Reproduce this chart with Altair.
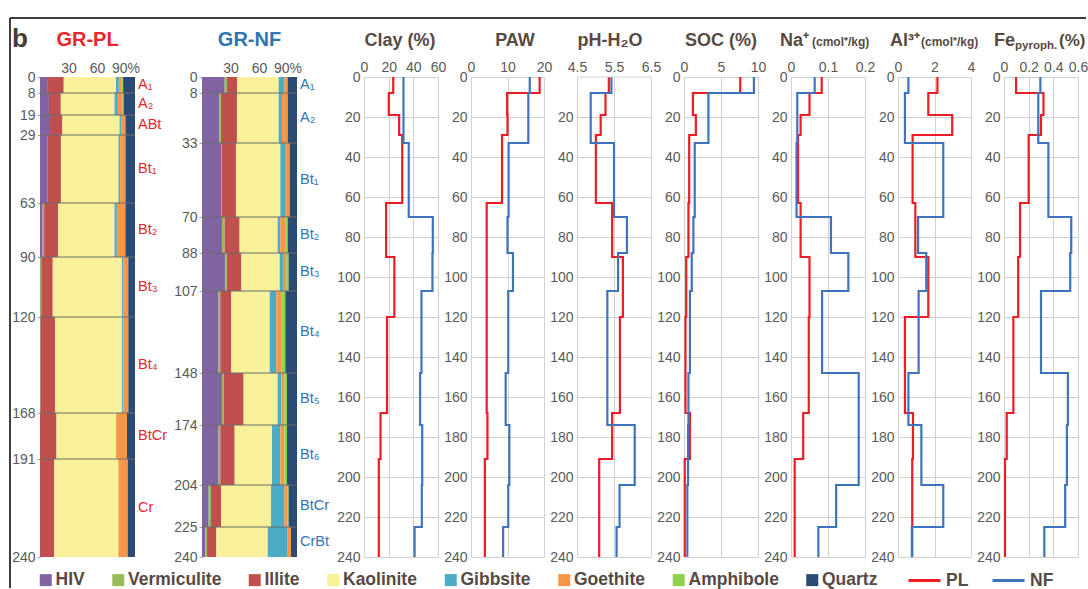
import altair as alt
import pandas as pd

# ---------------- data ----------------
MINERALS = ["HIV", "Vermiculite", "Illite", "Kaolinite", "Gibbsite", "Goethite", "Amphibole", "Quartz"]
MINERAL_COLORS = ["#8064a2", "#9bbb59", "#c0504d", "#f9f19a", "#4bacc6", "#f79646", "#8fd14f", "#2b4b74"]

PL_BOUNDS = [0, 8, 19, 29, 63, 90, 120, 168, 191, 240]
PL_HORIZONS = ["A₁", "A₂", "ABt", "Bt₁", "Bt₂", "Bt₃", "Bt₄", "BtCr", "Cr"]
NF_BOUNDS = [0, 8, 33, 70, 88, 107, 148, 174, 204, 225, 240]
NF_HORIZONS = ["A₁", "A₂", "Bt₁", "Bt₂", "Bt₃", "Bt₄", "Bt₅", "Bt₆", "BtCr", "CrBt"]

# mineral composition (%), one value per horizon
PL_HIV = [7.5, 9.4, 10.5, 7.7, 2.8, 0.3, 0.3, 0, 0]
PL_VERM = [0, 0, 0, 0, 1.5, 1.0, 0.5, 0, 0]
PL_ILLITE = [17.5, 12.5, 13, 14.3, 14.6, 12, 15, 17.4, 15]
PL_KAOL = [55, 56.5, 60, 60.6, 59, 72, 70.7, 62.7, 67.6]
PL_GIBB = [3, 3.5, 1.7, 1.7, 2.4, 1.4, 1.4, 0, 0]
PL_GOETH = [3, 5, 4.5, 5.6, 9, 5.2, 5.2, 11.5, 9.8]
PL_AMPH = [1.5, 1, 0, 0, 0, 0, 0, 0, 0]
PL_QUARTZ = [12.5, 12, 10, 10, 10, 7, 7, 8.4, 7.7]

NF_HIV = [23.9, 18.2, 20, 21, 24.6, 17.5, 21, 17.5, 7, 3.5]
NF_VERM = [2.5, 1.8, 1, 2.8, 1.8, 1.8, 1.8, 1.8, 2.5, 1.8]
NF_ILLITE = [10.5, 16.8, 14.7, 15.8, 15.1, 11.6, 21, 15.1, 10.5, 9.8]
NF_KAOL = [43.9, 43.9, 46.7, 40, 40.4, 40.4, 35.8, 39.3, 52.6, 54]
NF_GIBB = [6, 3.5, 4.9, 2.8, 3.5, 7, 3.9, 8.8, 14, 21]
NF_GOETH = [3.5, 6, 4.9, 5.3, 3.5, 5.3, 3.2, 4.2, 3.5, 3.5]
NF_AMPH = [0, 0, 0, 2.5, 2.5, 4.2, 2.8, 2.8, 1, 0]
NF_QUARTZ = [9.8, 9.8, 7.7, 9.8, 8.8, 12.3, 10.5, 10.5, 8.8, 6.3]

# soil properties, one value per horizon
CLAY_PL = [23.7, 20.1, 28.5, 31, 17.9, 24.6, 18.7, 13.4, 12]
CLAY_NF = [32, 32, 36.3, 55.8, 55.5, 46.6, 45.5, 47.2, 46.9, 41]
PAW_PL = [18.8, 9.9, 10.0, 8.5, 4.3, 4.3, 4.3, 4.5, 3.8]
PAW_NF = [16.1, 15.7, 10.3, 10.0, 11.5, 10.2, 9.5, 10.5, 10.2, 8.8]
PH_PL = [5.36, 5.27, 5.14, 5.01, 5.45, 5.74, 5.66, 5.45, 5.1]
PH_NF = [5.43, 4.87, 5.5, 5.85, 5.61, 5.32, 5.32, 6.06, 5.65, 5.57]
SOC_PL = [7.6, 1.2, 1.6, 0.7, 0.6, 0.3, 0.2, 0.8, 0.1]
SOC_NF = [9.45, 3.3, 1.45, 1.27, 1.05, 0.8, 0.6, 0.55, 0.45, 0.45]
NA_PL = [0.083, 0.05, 0.026, 0.019, 0.026, 0.05, 0.048, 0.033, 0.01]
NA_NF = [0.064, 0.017, 0.015, 0.108, 0.155, 0.084, 0.183, 0.183, 0.122, 0.074]
AL_PL = [2.16, 1.66, 2.97, 0.8, 0.95, 1.66, 0.38, 0.82, 0.78]
AL_NF = [0.57, 0.38, 2.48, 1.1, 1.55, 1.13, 0.57, 1.28, 2.48, 0.76]
FE_PL = [0.098, 0.32, 0.30, 0.2, 0.13, 0.115, 0.076, 0.022, 0.008]
FE_NF = [0.295, 0.278, 0.36, 0.545, 0.537, 0.3, 0.518, 0.51, 0.496, 0.327]

SITES = ["PL", "NF"]
SITE_COLORS = ["#ed1c24", "#3d74bd"]

# ---------------- styling ----------------
FONT = "Liberation Sans"
TXT = "#574a44"
TICK = "#595959"
GRID = "#d0d0d0"
H = 480
YSC = alt.Scale(domain=[0, 240], reverse=True, nice=False, zero=False)

FILL_LEGEND = alt.Legend(orient="none", legendX=-3, legendY=494, direction="horizontal",
                         title=None, symbolType="square", symbolSize=144, symbolStrokeWidth=0,
                         labelFontSize=17.5, labelFontWeight="bold", labelColor=TXT, labelFont=FONT,
                         columnPadding=24.5, labelOffset=1, padding=0, labelLimit=300)
STROKE_LEGEND = alt.Legend(orient="none", legendX=867, legendY=486, direction="horizontal",
                           title=None, symbolType="stroke", symbolSize=1024, symbolStrokeWidth=3,
                           labelFontSize=17.5, labelFontWeight="bold", labelColor=TXT, labelFont=FONT,
                           columnPadding=17, labelOffset=4, padding=0)


def one(text):
    return pd.DataFrame({"t": [text]})


def text_mark(text, x, y, size, color=TXT, weight="bold", align="left"):
    return alt.Chart(one(text)).mark_text(
        font=FONT, fontSize=size, fontWeight=weight, color=color, align=align, baseline="alphabetic"
    ).encode(text="t:N", x=alt.value(x), y=alt.value(y))


def profile_panel(title, tcolor, bounds, horizons, comp, W, extra=None):
    rows = []
    for i, h in enumerate(horizons):
        for k, m in enumerate(MINERALS):
            rows.append(dict(hz=i, top=bounds[i], bottom=bounds[i + 1], mineral=m, k=k, pct=comp[k][i]))
    df = pd.DataFrame(rows)
    yaxis = alt.Axis(values=bounds, title=None, grid=False, ticks=True, tickSize=3,
                     tickColor="#a6a6a6", domain=True, domainColor="#a6a6a6",
                     labelFontSize=14, labelColor=TICK, labelFont=FONT, labelPadding=2,
                     labelOverlap=False, labelFlush=False)
    rects = alt.Chart(df).transform_stack(
        stack="pct", groupby=["hz"], as_=["x0", "x1"], offset="normalize",
        sort=[alt.SortField("k", order="ascending")]
    ).mark_rect().encode(
        x=alt.X("x0:Q", scale=alt.Scale(domain=[0, 1], nice=False, zero=False),
                axis=alt.Axis(orient="top", values=[0.3, 0.6, 0.9], title=None, grid=False, ticks=False,
                              domain=True, domainColor="#a6a6a6", labelFontSize=14, labelColor=TICK,
                              labelFont=FONT, labelPadding=2, labelFlush=False, labelOverlap=False,
                              labelExpr="datum.value > 0.85 ? '90%' : format(datum.value * 100, 'd')")),
        x2="x1:Q",
        y=alt.Y("top:Q", scale=YSC, axis=yaxis),
        y2="bottom:Q",
        fill=alt.Fill("mineral:N", scale=alt.Scale(domain=MINERALS, range=MINERAL_COLORS),
                      legend=FILL_LEGEND),
    )
    bdf = pd.DataFrame({"top": bounds[1:-1]})
    rules = alt.Chart(bdf).mark_rule(color="#6a6a6a", strokeWidth=1.2).encode(
        y=alt.Y("top:Q", scale=YSC, axis=yaxis), x=alt.value(0), x2=alt.value(W))
    hdf = pd.DataFrame({"name": horizons,
                        "top": [(bounds[i] + bounds[i + 1]) / 2 for i in range(len(horizons))]})
    labels = alt.Chart(hdf).mark_text(font=FONT, fontSize=14.5, color=tcolor, align="left",
                                      baseline="middle").encode(
        text="name:N", y=alt.Y("top:Q", scale=YSC, axis=yaxis), x=alt.value(W + 3))
    ttl = text_mark(title, W / 2, -31, 20, color=tcolor, align="center")
    layers = [rects, rules, labels, ttl] + (extra or [])
    return alt.layer(*layers).properties(width=W, height=H)


def line_panel(title_marks, dom, ticks, pl, nf, W, depth_ticks=None):
    rows = []
    for site, bounds, vals in [("PL", PL_BOUNDS, pl), ("NF", NF_BOUNDS, nf)]:
        for i, v in enumerate(vals):
            rows.append(dict(site=site, depth=bounds[i], value=v, seq=i))
        rows.append(dict(site=site, depth=bounds[-1], value=vals[-1], seq=len(vals)))
    df = pd.DataFrame(rows)
    dticks = depth_ticks if depth_ticks is not None else list(range(0, 241, 20))
    lines = alt.Chart(df).mark_line(interpolate="step-before", strokeWidth=2.2).encode(
        x=alt.X("value:Q", scale=alt.Scale(domain=dom, nice=False, zero=False),
                axis=alt.Axis(orient="top", values=ticks, labelExpr="format(datum.value, '~f')",
                              title=None, grid=True,
                              gridColor=GRID, ticks=False, domain=False, labelFontSize=14,
                              labelColor=TICK, labelFont=FONT, labelPadding=3, labelFlush=False,
                              labelOverlap=False)),
        y=alt.Y("depth:Q", scale=YSC,
                axis=alt.Axis(values=dticks, title=None, grid=True, gridColor=GRID,
                              ticks=False, domain=False, labelFontSize=14, labelColor=TICK,
                              labelFont=FONT, labelPadding=4, labelOverlap=False, labelFlush=False)),
        stroke=alt.Stroke("site:N", scale=alt.Scale(domain=SITES, range=SITE_COLORS),
                          legend=STROKE_LEGEND),
        order="seq:Q",
    )
    layers = [lines]
    if depth_ticks is not None:
        # keep the frame line at depth 0 where no label is shown
        layers.append(alt.Chart(one("")).mark_rule(color=GRID, strokeWidth=1).encode(
            y=alt.value(0), x=alt.value(0), x2=alt.value(W)))
    return alt.layer(*layers, *title_marks).properties(width=W, height=H)


def spacer():
    return alt.Chart(one("")).mark_point(opacity=0).encode(
        x=alt.value(0), y=alt.value(0)).properties(width=1, height=H)


# decorations on the first panel
deco = [
    text_mark("b", -28, -30, 26, color="#4a3c35"),
    alt.Chart(one("")).mark_rule(color="black", strokeWidth=1.5).encode(
        x=alt.value(-30), y=alt.value(-59), y2=alt.value(511)),
    alt.Chart(one("")).mark_rule(color="black", strokeWidth=1.5).encode(
        x=alt.value(-30), x2=alt.value(1046), y=alt.value(-59)),
]

pl_comp = [PL_HIV, PL_VERM, PL_ILLITE, PL_KAOL, PL_GIBB, PL_GOETH, PL_AMPH, PL_QUARTZ]
nf_comp = [NF_HIV, NF_VERM, NF_ILLITE, NF_KAOL, NF_GIBB, NF_GOETH, NF_AMPH, NF_QUARTZ]

p_pl = profile_panel("GR-PL", "#e8262b", PL_BOUNDS, PL_HORIZONS, pl_comp, 95, deco)
p_nf = profile_panel("GR-NF", "#2e75b6", NF_BOUNDS, NF_HORIZONS, nf_comp, 95)

clay = line_panel([text_mark("Clay (%)", 36, -31, 18, align="center")], [0, 60], [0, 20, 40, 60], CLAY_PL, CLAY_NF, 74)
paw = line_panel([text_mark("PAW", 44, -31, 18, align="center")], [0, 20], [0, 10, 20], PAW_PL, PAW_NF, 73)
ph = line_panel([text_mark("pH-H₂O", 33, -31, 18, align="center")], [4.5, 6.5], [4.5, 5.5, 6.5], PH_PL, PH_NF, 74,
                depth_ticks=list(range(20, 241, 20)))
soc = line_panel([text_mark("SOC (%)", 37, -31, 18, align="center")], [0, 10], [0, 5, 10], SOC_PL, SOC_NF, 74)
na = line_panel([text_mark("Na⁺", 18, -31, 18, align="right"),
                 text_mark("(cmol⁺/kg)", 21, -31, 12, align="left")],
                [0, 0.2], [0, 0.1, 0.2], NA_PL, NA_NF, 74)
al = line_panel([text_mark("Al³⁺", 22, -31, 18, align="right"),
                 text_mark("(cmol⁺/kg)", 23, -31, 12, align="left")],
                [0, 4], [0, 2, 4], AL_PL, AL_NF, 73)
fe = line_panel([text_mark("Fe", -10, -31, 18, align="left"),
                 text_mark("pyroph.", 11, -28, 11.5, align="left"),
                 text_mark("(%)", 55, -31, 17, align="left")],
                [0, 0.6], [0, 0.2, 0.4, 0.6], FE_PL, FE_NF, 74)

chart = alt.hconcat(
    p_pl, spacer(), p_nf, spacer(), clay, paw, ph, soc, na, al, fe,
    spacing=33, bounds="flush"
).properties(
    padding={"left": 9, "top": 17, "right": 0, "bottom": 0}
).configure(font=FONT).configure_view(stroke=None)

chart.save("out.html", embed_options={"renderer": "svg", "actions": False})
